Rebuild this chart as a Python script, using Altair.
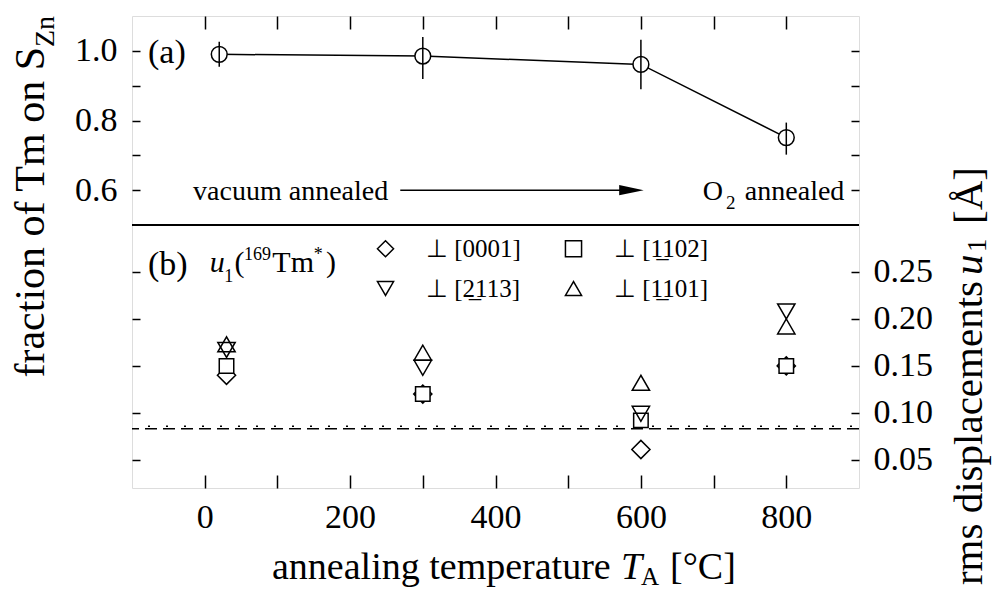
import altair as alt
import pandas as pd

FONT = "Liberation Serif"

# ---------------- data ----------------
temps_a = [20, 300, 600, 800]
frac = [0.990, 0.985, 0.961, 0.751]
frac_lo = [0.954, 0.919, 0.890, 0.702]
frac_hi = [1.026, 1.040, 1.032, 0.794]

temps_b = [30, 300, 600, 800]
u1_0001 = [0.140, 0.120, 0.061, 0.150]
u1_1102 = [0.150, 0.120, 0.092, 0.150]
u1_2113 = [0.167, 0.148, 0.099, 0.208]
u1_1101 = [0.173, 0.164, 0.132, 0.192]

ref_dash = [0.0830]
ref_dot = [0.0858]

dir_labels = ["\u22a5 [0001]", "\u22a5 [1\u0332102]", "\u22a5 [2\u0332113]", "\u22a5 [1\u0332101]"]
dir_shapes = ["diamond", "square", "triangle-down", "triangle-up"]
dir_sizes = [330, 210, 300, 300]
dir_fills = ["white", "white", "transparent", "transparent"]
legend_order = [0, 2, 1, 3]

x_ticks = [0, 100, 200, 300, 400, 500, 600, 700, 800]
top_ticks = [0.6, 0.7, 0.8, 0.9, 1.0]
bot_ticks = [0.05, 0.10, 0.15, 0.20, 0.25]

# ---------------- geometry ----------------
W = 727
H_TOP = 209
H_BOT = 263
H = H_TOP + H_BOT
X_DOM = [-100, 900]
A_DOM = [1.1 - 0.6 * H / H_TOP, 1.1]
B_DOM = [0.02, 0.02 + 0.28 * H / H_BOT]

xs = alt.Scale(domain=X_DOM, nice=False, zero=False)
ya = alt.Scale(domain=A_DOM, nice=False, zero=False)
yb = alt.Scale(domain=B_DOM, nice=False, zero=False)

LBL = 34


def tick_axis(orient, values, size, labels=False, **kw):
    return alt.Axis(orient=orient, values=values, labels=labels, tickSize=size,
                    offset=-size, domain=False, grid=False, title=None,
                    tickColor="black", tickWidth=1.5, labelFont=FONT,
                    labelFontSize=LBL, labelColor="black", labelOverlap=False,
                    labelFlush=False, **kw)


def txt(df, scale_y, size, align="left", baseline="alphabetic", style="normal"):
    return alt.Chart(df).mark_text(align=align, baseline=baseline, font=FONT, fontSize=size,
                                   fontStyle=style, color="black").encode(
        x=alt.X("x:Q", scale=xs, axis=None),
        y=alt.Y("y:Q", scale=scale_y, axis=None),
        text="t:N")


# ---------------- top panel ----------------
df_a = pd.DataFrame({"T": temps_a, "f": frac, "lo": frac_lo, "hi": frac_hi})

top_line = alt.Chart(df_a).mark_line(color="black", strokeWidth=1.5).encode(
    x=alt.X("T:Q", scale=xs, axis=tick_axis("top", x_ticks, 13)),
    y=alt.Y("f:Q", scale=ya, axis=tick_axis("right", top_ticks, 8)),
)
top_pts = alt.Chart(df_a).mark_point(shape="circle", size=250, filled=False, fill="white",
                                     fillOpacity=1, stroke="black", strokeWidth=1.5, opacity=1).encode(
    x=alt.X("T:Q", scale=xs, axis=None),
    y=alt.Y("f:Q", scale=ya, axis=None),
)
top_err = alt.Chart(df_a).mark_rule(color="black", strokeWidth=1.5).encode(
    x=alt.X("T:Q", scale=xs, axis=tick_axis(
        "bottom", x_ticks, 13, labels=True, labelPadding=12,
        labelExpr="datum.value % 200 == 0 ? format(datum.value, 'd') : ''")),
    y=alt.Y("lo:Q", scale=ya, axis=tick_axis(
        "left", top_ticks, 8, labels=True, labelPadding=15,
        labelExpr="(abs(datum.value-0.7)<0.01 || abs(datum.value-0.9)<0.01) ? '' : format(datum.value, '.1f')")),
    y2="hi:Q",
)

divider = alt.Chart(pd.DataFrame({"v": [0.5]})).mark_rule(color="black", strokeWidth=2).encode(
    y=alt.Y("v:Q", scale=ya, axis=None)
)

ann_a_lab = txt(pd.DataFrame({"x": [-78], "y": [0.994], "t": ["(a)"]}), ya, 34, baseline="middle")
ann_a_txt = txt(pd.DataFrame({"x": [-16, 685, 743], "y": [0.573, 0.571, 0.571],
                              "t": ["vacuum annealed", "O", "annealed"]}), ya, 28)
o2_sub = txt(pd.DataFrame({"x": [717], "y": [0.545], "t": ["2"]}), ya, 19)

arrow_line = alt.Chart(pd.DataFrame({"x": [269], "x2": [580], "y": [0.6]})).mark_rule(
    color="black", strokeWidth=1.5).encode(
    x=alt.X("x:Q", scale=xs, axis=None), x2="x2:Q", y=alt.Y("y:Q", scale=ya, axis=None))
arrow_head = alt.Chart(pd.DataFrame({"x": [587], "y": [0.6]})).mark_point(
    shape="M-1,-0.42L1,0L-1,0.42Z", size=600, filled=True, color="black", opacity=1).encode(
    x=alt.X("x:Q", scale=xs, axis=None), y=alt.Y("y:Q", scale=ya, axis=None))

# ---------------- bottom panel ----------------
rows = []
for i, (lab, shp, sz, fc, vals) in enumerate(zip(dir_labels, dir_shapes, dir_sizes, dir_fills,
                                                 [u1_0001, u1_1102, u1_2113, u1_1101])):
    for j, (t, v) in enumerate(zip(temps_b, vals)):
        rows.append({"T": t, "u": v, "dir": lab, "sz": sz, "fc": fc, "idx": i * 10 + j})
df_b = pd.DataFrame(rows)

bot_pts = alt.Chart(df_b).mark_point(filled=False, stroke="black", strokeWidth=1.5, opacity=1,
                                     fillOpacity=1).encode(
    x=alt.X("T:Q", scale=xs, axis=None),
    y=alt.Y("u:Q", scale=yb, axis=tick_axis("right", bot_ticks, 8, labels=True, labelPadding=14,
                                             format=".2f")),
    shape=alt.Shape("dir:N", scale=alt.Scale(domain=[dir_labels[k] for k in legend_order],
                                             range=[dir_shapes[k] for k in legend_order]),
                    legend=alt.Legend(orient="none", legendX=241, legendY=220, columns=2,
                                      title=None, labelFont=FONT, labelFontSize=25,
                                      labelColor="black", symbolStrokeColor="black",
                                      symbolFillColor="white", symbolStrokeWidth=1.5,
                                      symbolSize=260, labelOffset=28, columnPadding=40,
                                      rowPadding=14, padding=0, labelLimit=0)),
    size=alt.Size("sz:Q", scale=None, legend=None),
    fill=alt.Fill("fc:N", scale=None, legend=None),
    order=alt.Order("idx:Q"),
)

ref_dash_l = alt.Chart(pd.DataFrame({"u": ref_dash})).mark_rule(
    color="black", strokeWidth=1.5, strokeDash=[12, 6]).encode(
    y=alt.Y("u:Q", scale=yb, axis=tick_axis("left", bot_ticks, 8)))
ref_dot_l = alt.Chart(pd.DataFrame({"u": ref_dot})).mark_rule(
    color="black", strokeWidth=1.5, strokeDash=[2, 16], strokeDashOffset=-7).encode(
    y=alt.Y("u:Q", scale=yb, axis=None))

b_lab = txt(pd.DataFrame({"x": [-78], "y": [0.257], "t": ["(b)"]}), yb, 34, baseline="middle")

# u1(169Tm*) built from pieces
u_it = txt(pd.DataFrame({"x": [7], "y": [0.250], "t": ["u"]}), yb, 30, style="italic")
u_main = txt(pd.DataFrame({"x": [41, 93, 167], "y": [0.250, 0.250, 0.250],
                           "t": ["(", "Tm", ")"]}), yb, 30)
u_small = txt(pd.DataFrame({"x": [27, 54, 150], "y": [0.239, 0.263, 0.263],
                            "t": ["1", "169", "*"]}), yb, 18)


# ---------------- axis titles (outside plot) ----------------
def ptxt(t, x, y, size, align="left", angle=0, style="normal", baseline="alphabetic"):
    return alt.Chart(pd.DataFrame({"t": [t]})).mark_text(
        align=align, baseline=baseline, angle=angle, font=FONT, fontSize=size,
        fontStyle=style, color="black").encode(x=alt.value(x), y=alt.value(y), text="t:N")


ytl_main = ptxt("fraction of Tm on S", -88, 31, 42, align="right", angle=270)
ytl_sub = ptxt("Zn", -78, 31, 28, angle=270)

yr_main = ptxt("rms displacements", 850, 265, 41, align="right", angle=270)
yr_u = ptxt("u", 850, 259, 41, angle=270, style="italic")
yr_1 = ptxt("1", 854, 236, 27, angle=270)
yr_end = ptxt("[\u00c5]", 850, 208, 41, angle=270)

xt_main = ptxt("annealing temperature", 140, 563, 38)
xt_T = ptxt("T", 489, 563, 38, style="italic")
xt_A = ptxt("A", 509, 569, 25)
xt_end = ptxt("[\u00b0C]", 538, 563, 38)

chart = alt.layer(
    divider, top_line, top_pts, top_err, ann_a_lab, ann_a_txt, o2_sub, arrow_line, arrow_head,
    ref_dash_l, ref_dot_l, bot_pts, b_lab, u_it, u_main, u_small,
    ytl_main, ytl_sub, yr_main, yr_u, yr_1, yr_end, xt_main, xt_T, xt_A, xt_end,
).resolve_scale(y="independent").resolve_axis(x="independent", y="independent").properties(
    width=W, height=H, background="white",
    autosize=alt.AutoSizeParams(type="none"),
    padding={"left": 124, "top": 8, "right": 134, "bottom": 104},
).configure_view(stroke="black", strokeWidth=2).configure(font=FONT)

chart.save("out.html", embed_options={"renderer": "svg", "actions": False})
